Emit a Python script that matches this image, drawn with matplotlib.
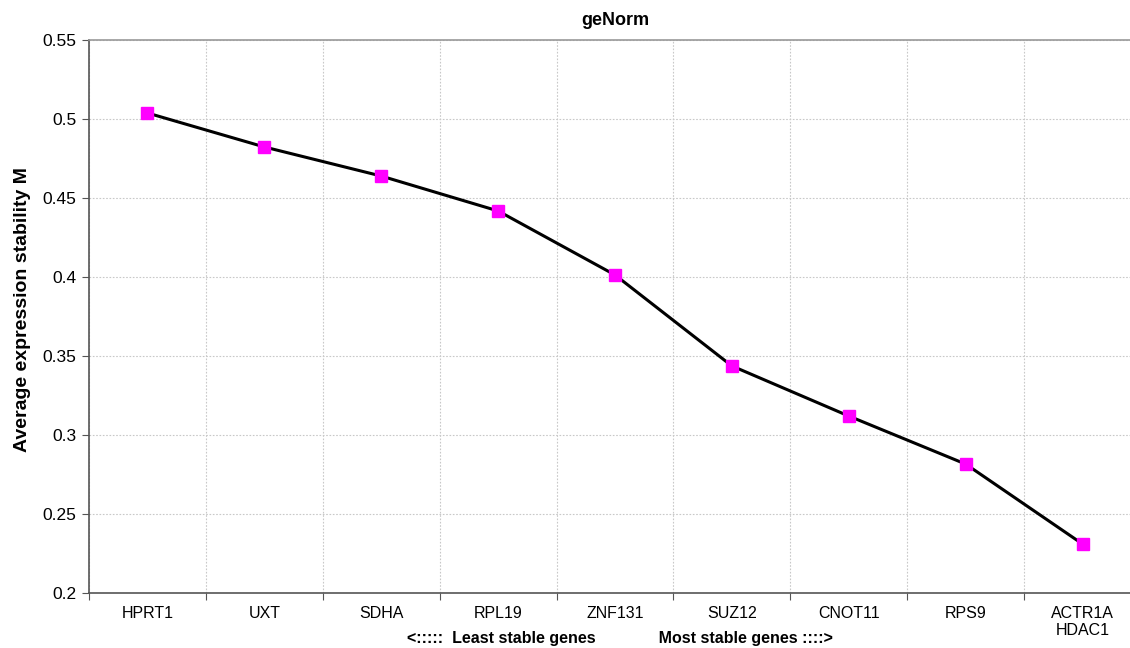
import matplotlib
matplotlib.use("Agg")
import matplotlib.pyplot as plt
import numpy as np

genes = ["HPRT1", "UXT", "SDHA", "RPL19", "ZNF131", "SUZ12", "CNOT11", "RPS9", "ACTR1A\nHDAC1"]
m_values = [0.5038, 0.4823, 0.4639, 0.4418, 0.4013, 0.3437, 0.3120, 0.2816, 0.2310]
y_ticks = [0.2, 0.25, 0.3, 0.35, 0.4, 0.45, 0.5, 0.55]
y_tick_labels = ["0.2", "0.25", "0.3", "0.35", "0.4", "0.45", "0.5", "0.55"]

plt.rcParams['font.family'] = ['Liberation Sans', 'DejaVu Sans']

fig = plt.figure(figsize=(11.3, 6.48), dpi=100)
W, H = 1130, 648
ax = fig.add_axes([89 / W, (H - 593) / H, (1141 - 89) / W, (593 - 40) / H])

x = np.arange(len(genes))
ax.plot(x, m_values, color="black", linewidth=2.2, zorder=3)
ax.plot(x, m_values, linestyle="none", marker="s", markersize=8.5,
        markerfacecolor="#ff00ff", markeredgecolor="#ff00ff", zorder=4)

ax.set_xlim(-0.5, len(genes) - 0.5)
ax.set_ylim(0.2, 0.55)
ax.set_yticks(y_ticks)
ax.set_yticklabels(y_tick_labels, fontsize=12.5)

ax.set_xticks(np.arange(len(genes) + 1) - 0.5)
ax.set_xticklabels([])
ax.set_xticks(x, minor=True)
ax.set_xticklabels(genes, minor=True, fontsize=11.5)
ax.tick_params(axis="x", which="minor", length=0, pad=9)
ax.tick_params(axis="x", which="major", length=5, direction="out", color="#555555")
ax.tick_params(axis="y", length=5, direction="out", color="#555555", pad=4)

ax.grid(True, which="major", linestyle=(0, (1.5, 1.5)), color="#c8c8c8", linewidth=0.8)
ax.set_axisbelow(True)

for side in ["left", "bottom", "top"]:
    ax.spines[side].set_color("#555555")
    ax.spines[side].set_linewidth(1.2)
ax.spines["top"].set_color("#999999")
ax.spines["right"].set_visible(False)

ax.set_ylabel("Average expression stability M", fontsize=14, fontweight="bold")
ax.yaxis.set_label_coords(-0.055, 0.513)
ax.set_title("geNorm", fontsize=13, fontweight="bold", pad=11)
fig.text(620 / W, 1 - 638 / H, "<:::::  Least stable genes              Most stable genes ::::>",
         ha="center", va="center", fontsize=11.5, fontweight="bold")

fig.savefig("out.png", dpi=100)
